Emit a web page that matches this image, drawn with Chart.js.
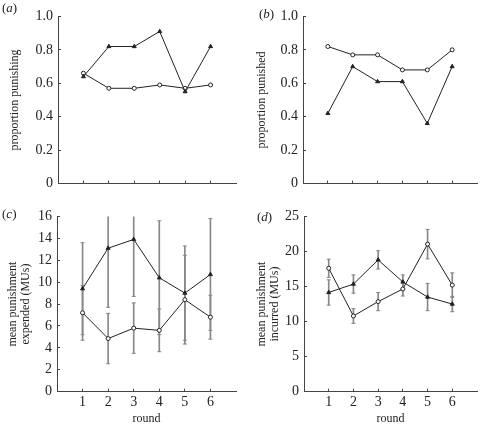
<!DOCTYPE html>
<html lang="en">
<head>
<meta charset="UTF-8">
<title>Punishment by round</title>
<script src="https://cdn.jsdelivr.net/npm/chart.js"></script>
<style>
  body { margin: 0; background: #fff; }
  #wrap { position: relative; width: 483px; height: 426px; }
  canvas { position: absolute; }
  .tag { position: absolute; font: 13px "Liberation Serif", serif; color: #222; line-height: 14px; }
</style>
</head>
<body>
<div id="wrap">
  <canvas id="chartA" width="241" height="200" style="left:0;top:0"></canvas>
  <canvas id="chartB" width="242" height="200" style="left:241px;top:0"></canvas>
  <canvas id="chartC" width="241" height="226" style="left:0;top:200px"></canvas>
  <canvas id="chartD" width="242" height="226" style="left:241px;top:200px"></canvas>
  <span class="tag" style="left:2px;top:1px">(<i>a</i>)</span>
  <span class="tag" style="left:259px;top:7px">(<i>b</i>)</span>
  <span class="tag" style="left:2px;top:207px">(<i>c</i>)</span>
  <span class="tag" style="left:257px;top:210px">(<i>d</i>)</span>
</div>
<script>
// rounds on the x axis
var rounds = [1, 2, 3, 4, 5, 6];

// (a) proportion punishing
var punishingTri = [0.64, 0.82, 0.82, 0.91, 0.55, 0.82];
var punishingCirc = [0.66, 0.57, 0.57, 0.59, 0.57, 0.59];

// (b) proportion punished
var punishedCirc = [0.82, 0.77, 0.77, 0.68, 0.68, 0.80];
var punishedTri = [0.42, 0.70, 0.61, 0.61, 0.36, 0.70];

// (c) mean punishment expended (MUs), with error bars
var expendedTri = [9.4, 13.1, 13.9, 10.4, 9.0, 10.7];
var expendedTriErr = [4.2, 5.4, 5.2, 5.2, 4.3, 5.1];
var expendedCirc = [7.2, 4.85, 5.8, 5.6, 8.4, 6.8];
var expendedCircErr = [2.5, 2.3, 2.3, 1.95, 4.05, 2.0];

// (d) mean punishment incurred (MUs), with error bars
var incurredCirc = [17.6, 10.8, 12.85, 14.65, 21.05, 15.2];
var incurredCircErr = [1.3, 1.05, 1.3, 1.0, 2.1, 1.75];
var incurredTri = [14.15, 15.35, 18.8, 15.65, 13.5, 12.5];
var incurredTriErr = [1.8, 1.3, 1.3, 1.0, 1.95, 1.1];

// y tick values
var propTicks = [0, 0.2, 0.4, 0.6, 0.8, 1.0];
var expendedTicks = [0, 2, 4, 6, 8, 10, 12, 14, 16];
var incurredTicks = [0, 5, 10, 15, 20, 25];

var serif = 'Liberation Serif';
var ink = '#222';
var axisColor = '#444';
var barColor = '#888';

function series(values, style) {
  return {
    type: 'line',
    data: rounds.map(function (r, i) { return { x: r, y: values[i] }; }),
    borderColor: ink,
    borderWidth: 1,
    pointStyle: style,
    pointRadius: style === 'triangle' ? 2.3 : 2,
    pointBackgroundColor: style === 'triangle' ? ink : '#fff',
    pointBorderColor: ink,
    pointBorderWidth: 1,
    order: 0
  };
}

// error bar = thin floating bar + two short caps
function errorBars(values, errs) {
  var caps = [];
  rounds.forEach(function (r, i) {
    caps.push({ x: r, y: values[i] - errs[i] });
    caps.push({ x: r, y: values[i] + errs[i] });
  });
  return [{
    type: 'bar',
    data: rounds.map(function (r, i) { return { x: r, y: [values[i] - errs[i], values[i] + errs[i]] }; }),
    backgroundColor: barColor,
    borderWidth: 0,
    barThickness: 1,
    grouped: false,
    order: 2
  }, {
    type: 'line',
    showLine: false,
    data: caps,
    pointStyle: 'line',
    pointRadius: 2,
    pointBorderColor: barColor,
    pointBorderWidth: 1,
    order: 1
  }];
}

function makeChart(id, p) {
  var ctx = document.getElementById(id).getContext('2d');
  return new Chart(ctx, {
    type: 'line',
    data: { datasets: p.datasets },
    options: {
      responsive: false,
      animation: false,
      events: [],
      layout: { padding: { top: p.top, right: p.right, left: 0, bottom: 0 } },
      plugins: { legend: { display: false }, tooltip: { enabled: false } },
      scales: {
        x: {
          type: 'linear',
          min: 0,
          max: 7,
          offset: false,
          afterBuildTicks: function (s) { s.ticks = rounds.map(function (v) { return { value: v }; }); },
          afterFit: function (s) { s.height = p.xHeight; },
          grid: { drawOnChartArea: false, drawTicks: true, tickLength: -3, tickColor: axisColor, offset: false },
          border: { color: axisColor, width: 1 },
          ticks: { display: p.showX, color: ink, font: { family: serif, size: 14 }, padding: 5 },
          title: { display: p.showX, text: 'round', color: ink, font: { family: serif, size: 12 }, padding: { top: 0, bottom: 0 } }
        },
        y: {
          min: p.yTicks[0],
          max: p.yTicks[p.yTicks.length - 1],
          afterBuildTicks: function (s) { s.ticks = p.yTicks.map(function (v) { return { value: v }; }); },
          afterFit: function (s) { s.width = p.yWidth; },
          grid: { drawOnChartArea: false, drawTicks: true, tickLength: -3, tickColor: axisColor },
          border: { color: axisColor, width: 1 },
          ticks: {
            color: ink,
            font: { family: serif, size: 14 },
            padding: 8,
            callback: function (v) { return v === 0 ? '0' : (p.decimals ? v.toFixed(1) : String(v)); }
          },
          title: {
            display: true,
            text: p.yTitle,
            color: ink,
            font: { family: serif, size: 12, lineHeight: 1.05 },
            padding: { top: p.titlePad, bottom: 0 }
          }
        }
      }
    }
  });
}

makeChart('chartA', {
  datasets: [series(punishingTri, 'triangle'), series(punishingCirc, 'circle')],
  yTicks: propTicks, decimals: true, yTitle: 'proportion punishing',
  yWidth: 58, top: 8.5, right: 4, xHeight: 12, showX: false, titlePad: 9
});

makeChart('chartB', {
  datasets: [series(punishedCirc, 'circle'), series(punishedTri, 'triangle')],
  yTicks: propTicks, decimals: true, yTitle: 'proportion punished',
  yWidth: 62, top: 8.5, right: 6, xHeight: 12, showX: false, titlePad: 15
});

makeChart('chartC', {
  datasets: [series(expendedTri, 'triangle'), series(expendedCirc, 'circle')]
    .concat(errorBars(expendedTri, expendedTriErr), errorBars(expendedCirc, expendedCircErr)),
  yTicks: expendedTicks, decimals: false, yTitle: ['mean punishment', 'expended (MUs)'],
  yWidth: 57, top: 13.3, right: 4, xHeight: 34.3, showX: true, titlePad: 7
});

makeChart('chartD', {
  datasets: [series(incurredCirc, 'circle'), series(incurredTri, 'triangle')]
    .concat(errorBars(incurredCirc, incurredCircErr), errorBars(incurredTri, incurredTriErr)),
  yTicks: incurredTicks, decimals: false, yTitle: ['mean punishment', 'incurred (MUs)'],
  yWidth: 63, top: 13.3, right: 6, xHeight: 34.3, showX: true, titlePad: 15
});
</script>
</body>
</html>
